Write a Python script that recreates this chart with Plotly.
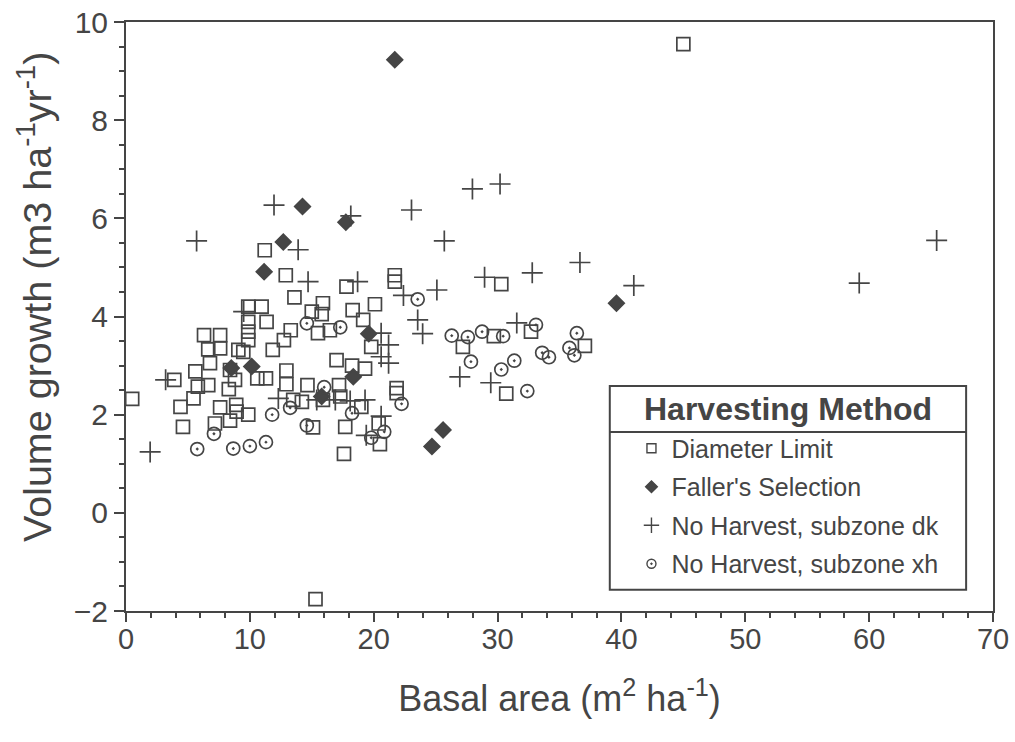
import plotly.graph_objects as go

# ---- data (basal area m2/ha, volume growth m3/ha/yr) ----
dl_x = [0.5, 3.9, 4.4, 4.6, 5.45, 5.6, 5.8, 6.3, 6.64, 6.78, 6.64, 7.6, 7.6, 7.6, 7.18,
        8.3, 8.8, 8.9, 8.93, 8.4, 8.4, 9.07, 9.47, 9.87, 10.95, 9.87, 11.35, 9.87, 9.87,
        9.87, 10.6, 11.3, 11.2, 12.9, 13.6, 13.3, 12.75, 11.85, 12.95, 12.95, 13.5, 14.2,
        14.65, 15.1, 15.0, 15.8, 15.9, 15.5, 16.46, 17.0, 18.25, 19.3, 17.2, 15.9, 17.3,
        17.8, 18.3, 20.1, 19.15, 19.8, 21.7, 21.7, 19.0, 20.4, 20.5, 17.7, 17.6, 21.85,
        21.85, 30.3, 27.2, 29.7, 32.7, 37.05, 30.7, 45.0, 15.3]
dl_y = [2.32, 2.71, 2.16, 1.75, 2.33, 2.88, 2.57, 3.62, 3.33, 3.05, 2.6, 3.62, 3.35, 2.15, 1.82,
        2.52, 2.71, 2.2, 2.06, 1.88, 2.91, 3.32, 3.28, 4.2, 4.2, 3.89, 3.89, 3.69, 3.52,
        2.0, 2.74, 2.74, 5.35, 4.84, 4.39, 3.72, 3.52, 3.32, 2.9, 2.62, 2.3, 2.26,
        2.6, 1.74, 4.1, 4.05, 4.27, 3.66, 3.72, 3.11, 3.0, 2.94, 2.6, 2.3, 2.37,
        4.61, 4.13, 4.25, 3.93, 3.38, 4.84, 4.71, 2.16, 1.82, 1.4, 1.75, 1.2, 2.44,
        2.54, 4.66, 3.38, 3.6, 3.69, 3.4, 2.43, 9.55, -1.76]

fs_x = [21.7, 14.25, 17.75, 12.7, 11.15, 39.6, 19.6, 8.5, 10.15, 18.35, 25.6, 24.7, 15.8]
fs_y = [9.23, 6.24, 5.92, 5.52, 4.91, 4.27, 3.65, 2.95, 2.98, 2.77, 1.69, 1.35, 2.37]

dk_x = [1.95, 3.2, 5.7, 11.95, 13.9, 14.7, 9.5, 18.15, 18.7, 23.05, 27.97, 30.2, 25.7,
        22.4, 25.1, 23.55, 23.95, 28.95, 32.8, 36.65, 41.0, 59.2, 65.45, 26.95, 29.45,
        31.55, 20.6, 21.2, 20.6, 21.2, 12.3, 15.4, 16.9, 18.1, 19.3, 20.6, 19.4]
dk_y = [1.24, 2.71, 5.54, 6.27, 5.36, 4.71, 4.1, 6.05, 4.71, 6.17, 6.6, 6.7, 5.54,
        4.43, 4.54, 3.93, 3.65, 4.8, 4.89, 5.1, 4.63, 4.68, 5.55, 2.77, 2.65,
        3.87, 3.66, 3.42, 3.18, 3.05, 2.33, 2.3, 2.3, 2.28, 2.3, 1.97, 1.58]

xh_x = [5.75, 8.66, 10.0, 11.3, 7.1, 11.8, 13.25, 14.6, 14.6, 17.3, 16.0, 18.25, 22.25,
        20.85, 19.8, 23.55, 26.3, 27.6, 27.85, 28.75, 30.45, 33.1, 33.6, 34.15, 36.4,
        35.8, 36.2, 31.35, 30.3, 32.4]
xh_y = [1.3, 1.31, 1.36, 1.44, 1.61, 2.0, 2.14, 1.78, 3.86, 3.78, 2.56, 2.03, 2.22,
        1.65, 1.53, 4.35, 3.61, 3.58, 3.08, 3.69, 3.6, 3.83, 3.26, 3.17, 3.66,
        3.36, 3.21, 3.1, 2.92, 2.48]

series_names = ["Diameter Limit", "Faller's Selection",
                "No Harvest, subzone dk", "No Harvest, subzone xh"]
x_ticks = [0, 10, 20, 30, 40, 50, 60, 70]
y_ticks = [-2, 0, 2, 4, 6, 8, 10]

INK = "#454545"
symbols = ["square-open", "diamond", "cross-thin-open", "circle-open-dot"]
sizes = [13, 12, 15, 13]
xs = [dl_x, fs_x, dk_x, xh_x]
ys = [dl_y, fs_y, dk_y, xh_y]

fig = go.Figure()
for name, sx, sy, sym, sz in zip(series_names, xs, ys, symbols, sizes):
    mk = dict(symbol=sym, size=sz, color=INK, line=dict(color=INK, width=1.7))
    fig.add_trace(go.Scatter(x=sx, y=sy, mode="markers", name=name,
                             marker=mk, showlegend=False))
# legend entries (smaller symbols as in the reference)
leg_sizes = [9, 9, 11, 9]
for i, (name, sym, sz) in enumerate(zip(series_names, symbols, leg_sizes)):
    fig.add_trace(go.Scatter(x=[None], y=[None], mode="markers", name=name,
                             legendgroup=f"g{i}",
                             marker=dict(symbol=sym, size=sz, color=INK,
                                         line=dict(color=INK, width=1.4))))

FONT = "Liberation Sans, Arial, sans-serif"
NARROW = "Liberation Sans Narrow, Liberation Sans, Arial, sans-serif"

fig.update_layout(
    width=1015, height=742,
    margin=dict(l=126, r=22, t=22, b=131),
    paper_bgcolor="white", plot_bgcolor="white",
    font=dict(family=FONT, color=INK),
    legend=dict(x=0.583, y=0.315, xanchor="left", yanchor="top",
                bgcolor="rgba(0,0,0,0)", borderwidth=0,
                font=dict(family=FONT, size=25, color=INK),
                tracegroupgap=3, itemclick=False),
    xaxis=dict(range=[0, 70], tickvals=x_ticks, showgrid=False, zeroline=False,
               showline=True, linecolor=INK, linewidth=2, mirror=True, automargin=False,
               ticks="outside", ticklen=9, tickwidth=2, tickcolor=INK,
               minor=dict(dtick=2, ticks="outside", ticklen=5, tickwidth=1.5, tickcolor=INK),
               tickfont=dict(family=NARROW, size=29, color=INK),
               ticklabelstandoff=-8, ticklabeloverflow="allow",
               title=dict(text="Basal area (m<sup>2</sup> ha<sup>-1</sup>)",
                          font=dict(family=NARROW, size=36, color=INK), standoff=32)),
    yaxis=dict(range=[-2, 10], tickvals=y_ticks, showgrid=False, zeroline=False,
               showline=True, linecolor=INK, linewidth=2, mirror=True, automargin=False,
               ticks="outside", ticklen=10, tickwidth=2, tickcolor=INK,
               minor=dict(dtick=0.5, ticks="outside", ticklen=5, tickwidth=1.5, tickcolor=INK),
               tickfont=dict(family=FONT, size=30, color=INK),
               ticklabeloverflow="allow"),
)

# y-axis title placed as in the reference
fig.add_annotation(xref="paper", yref="paper", x=-0.105, y=0.533, showarrow=False,
                   xanchor="center", yanchor="middle", textangle=-90,
                   text="Volume growth (m3 ha<sup>-1</sup>yr<sup>-1</sup>)",
                   font=dict(family=FONT, size=39.5, color=INK))

# legend frame with title row
fig.add_shape(type="rect", xref="paper", yref="paper", x0=0.558, x1=0.969,
              y0=0.036, y1=0.382, line=dict(color=INK, width=2), fillcolor="rgba(0,0,0,0)")
fig.add_shape(type="line", xref="paper", yref="paper", x0=0.558, x1=0.969,
              y0=0.304, y1=0.304, line=dict(color=INK, width=2))
fig.add_annotation(xref="paper", yref="paper", x=0.7635, y=0.343, showarrow=False,
                   xanchor="center", yanchor="middle",
                   text="<b>Harvesting Method</b>",
                   font=dict(family=FONT, size=32, color=INK))

fig.write_html("out.html", config={"displayModeBar": False},
               post_script="document.body.style.margin='0px';")
